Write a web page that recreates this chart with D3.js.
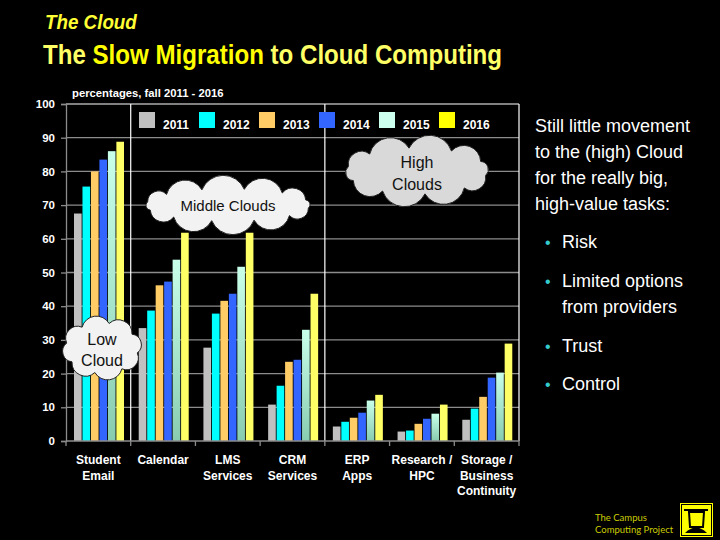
<!DOCTYPE html>
<html><head><meta charset="utf-8">
<script src="https://cdn.jsdelivr.net/npm/d3@7"></script>
<style>
html,body{margin:0;padding:0;background:#000;}
svg{display:block;font-family:"Liberation Sans",Arial,sans-serif;}
</style></head>
<body><svg id="c" width="720" height="540"></svg>
<script>
const categories = [["Student","Email"],["Calendar"],["LMS","Services"],["CRM","Services"],["ERP","Apps"],["Research /","HPC"],["Storage /","Business","Continuity"]];
const years = ["2011","2012","2013","2014","2015","2016"];
const v2011 = [67.5, 33.5, 27.7, 10.8, 4.3, 2.8, 6.3];
const v2012 = [75.5, 38.7, 37.8, 16.4, 5.7, 3.1, 9.6];
const v2013 = [80.0, 46.2, 41.6, 23.5, 6.9, 5.1, 13.1];
const v2014 = [83.5, 47.3, 43.7, 24.1, 8.4, 6.6, 18.8];
const v2015 = [86.0, 53.8, 51.7, 33.0, 12.0, 8.1, 20.3];
const v2016 = [88.8, 61.8, 61.8, 43.7, 13.7, 10.8, 28.9];
const yTicks = [0,10,20,30,40,50,60,70,80,90,100];
const bullets = [["Risk"],["Limited options","from providers"],["Trust"],["Control"]];
const intro = ["Still little movement","to the (high) Cloud","for the really big,","high-value tasks:"];

const series = [v2011,v2012,v2013,v2014,v2015,v2016];
const barColors = ["#c0c0c0","#00ffff","#ffcc66","#3366ff","url(#mint)","#ffff66"];
const legendColors = ["#c0c0c0","#00ffff","#ffcc66","#3366ff","#ccffee","#ffff00"];

const svg = d3.select("#c");
const defs = svg.append("defs");
const g1 = defs.append("linearGradient").attr("id","mint").attr("x1",0).attr("y1",0).attr("x2",0).attr("y2",1);
g1.append("stop").attr("offset","0%").attr("stop-color","#c8ffea");
g1.append("stop").attr("offset","100%").attr("stop-color","#88ccb0");

// Titles
svg.append("text").attr("transform","translate(45,29) scale(0.94,1)").attr("fill","#ffff33")
  .attr("font-size",20).attr("font-weight","bold").attr("font-style","italic").text("The Cloud");
const t = svg.append("text").attr("transform","translate(43,64) scale(0.861,1)").attr("font-size",28).attr("font-weight","bold");
t.append("tspan").attr("fill","#ffff66").text("The ");
t.append("tspan").attr("fill","#ffff00").text("Slow Migration");
t.append("tspan").attr("fill","#ffff66").text(" to Cloud Computing");
svg.append("text").attr("transform","translate(72,97) scale(0.98,1)").attr("fill","#fff").attr("font-size",11.5).attr("font-weight","bold")
  .text("percentages, fall 2011 - 2016");

const L=66, R=519, T=104, B=441;
const x0 = d3.scaleBand().domain(d3.range(categories.length)).range([L,R]).padding(0);
const x1 = d3.scaleBand().domain(years).range([8, 58]).paddingInner(0.1);
const y = d3.scaleLinear().domain([0,100]).range([B,T]);

// gridlines
svg.append("g").selectAll("line").data(yTicks.filter(d=>d>0&&d<100)).join("line")
  .attr("x1",L).attr("x2",R).attr("y1",d=>y(d)).attr("y2",d=>y(d))
  .attr("stroke","#8c8c8c").attr("stroke-width",1.3);

// bars
series.forEach((s,si)=>{
  svg.append("g").selectAll("rect").data(s).join("rect")
    .attr("x",(d,i)=>x0(i)+x1(years[si]))
    .attr("width",x1.bandwidth())
    .attr("y",d=>y(d)).attr("height",d=>B-y(d))
    .attr("fill",barColors[si]);
});

// frame
svg.append("line").attr("x1",L).attr("x2",R).attr("y1",T).attr("y2",T).attr("stroke","#fff").attr("stroke-width",1.2);
svg.append("line").attr("x1",R).attr("x2",R).attr("y1",T).attr("y2",B).attr("stroke","#fff").attr("stroke-width",1.2);
[1,4].forEach(i=>{
  svg.append("line").attr("x1",x0(i)).attr("x2",x0(i)).attr("y1",T).attr("y2",B).attr("stroke","#fff").attr("stroke-width",1.2);
});

// y axis
const ya = svg.append("g").attr("transform",`translate(${L},0)`)
  .call(d3.axisLeft(y).tickValues(yTicks).tickSize(5).tickPadding(6));
ya.select(".domain").attr("stroke","#8c8c8c").attr("stroke-width",1.3);
ya.selectAll(".tick line").attr("stroke","#8c8c8c").attr("stroke-width",1.3);
ya.selectAll(".tick text").attr("fill","#fff").attr("font-size",11.5).attr("font-weight","bold")
  .attr("font-family","Liberation Sans, Arial, sans-serif");

// x axis
svg.append("line").attr("x1",L).attr("x2",R).attr("y1",B).attr("y2",B).attr("stroke","#8c8c8c").attr("stroke-width",1.3);
svg.append("g").selectAll("line").data(d3.range(categories.length+1)).join("line")
  .attr("x1",i=>L+i*x0.step()).attr("x2",i=>L+i*x0.step()).attr("y1",B).attr("y2",B+5)
  .attr("stroke","#8c8c8c").attr("stroke-width",1.3);
const xl = svg.append("g");
categories.forEach((c,i)=>{
  const tx = xl.append("text").attr("x",x0(i)+x0.bandwidth()/2).attr("y",464).attr("text-anchor","middle")
    .attr("fill","#fff").attr("font-size",12).attr("font-weight","bold");
  c.forEach((line,j)=>tx.append("tspan").attr("x",x0(i)+x0.bandwidth()/2).attr("dy",j?15.5:0).text(line));
});

// legend
const lg = svg.append("g");
years.forEach((yr,i)=>{
  lg.append("rect").attr("x",139+i*60).attr("y",112).attr("width",16).attr("height",16).attr("fill",legendColors[i]);
  lg.append("text").attr("x",163+i*60).attr("y",129).attr("fill","#fff").attr("font-size",12).attr("font-weight","bold").text(yr);
});

// clouds
function cloudPath(cx,cy,rx,ry,n){
  const pts = d3.range(n+1).map(i=>{const a=Math.PI*2*i/n+0.2; return [cx+rx*Math.cos(a), cy+ry*Math.sin(a)];});
  let p = `M${pts[0][0]},${pts[0][1]}`;
  for(let i=1;i<=n;i++){
    const dx=pts[i][0]-pts[i-1][0], dy=pts[i][1]-pts[i-1][1];
    const r = Math.sqrt(dx*dx+dy*dy)*0.54;
    p += `A${r},${r} 0 0 1 ${pts[i][0]},${pts[i][1]}`;
  }
  return p+"Z";
}
function cloud(cx,cy,rx,ry,n,fill,lines,fs,base,lh){
  svg.append("path").attr("d",cloudPath(cx,cy,rx,ry,n)).attr("fill",fill).attr("stroke","#222").attr("stroke-width",1);
  lines.forEach((l,j)=>svg.append("text").attr("x",cx).attr("y",base+j*lh).attr("text-anchor","middle")
    .attr("fill","#111").attr("font-size",fs).text(l));
}
cloud(102,348,36,25,8,"#f2f2f2",["Low","Cloud"],16,345,21);
cloud(228,205,82,16,12,"#f2f2f2",["Middle Clouds"],15,211,0);
cloud(417,171,70,23,10,"#d9d9d9",["High","Clouds"],16,168,22);

// right text
const rt = svg.append("g").attr("fill","#fff").attr("font-size",18);
intro.forEach((l,j)=>rt.append("text").attr("x",535).attr("y",132+j*26).text(l));
let by = [248,287,352,390];
bullets.forEach((b,i)=>{
  svg.append("text").attr("x",545).attr("y",by[i]).attr("fill","#33cccc").attr("font-size",16).text("•");
  b.forEach((l,j)=>svg.append("text").attr("x",562).attr("y",by[i]+j*26).attr("fill","#fff").attr("font-size",18).text(l));
});

// logo
svg.append("text").attr("x",595).attr("y",521).attr("fill","#cccc00").attr("font-size",9.5).attr("font-family","Lato, sans-serif").text("The Campus");
svg.append("text").attr("x",595).attr("y",533).attr("fill","#cccc00").attr("font-size",9.5).attr("font-family","Lato, sans-serif").text("Computing Project");
svg.append("rect").attr("x",680).attr("y",503).attr("width",33).attr("height",34).attr("fill","#ffff00");
svg.append("rect").attr("x",681.5).attr("y",504.5).attr("width",30).attr("height",31).attr("fill","none").attr("stroke","#000").attr("stroke-width",1);
svg.append("path").attr("d","M684,509 L708,509 L708,511 L684,511 Z").attr("fill","#000");
svg.append("path").attr("d","M689,512 L704,512 L703,527 L690,527 Z").attr("fill","none").attr("stroke","#000").attr("stroke-width",2);
svg.append("path").attr("d","M685,533 Q696,522 707,533 Z").attr("fill","#000");
</script></body></html>
